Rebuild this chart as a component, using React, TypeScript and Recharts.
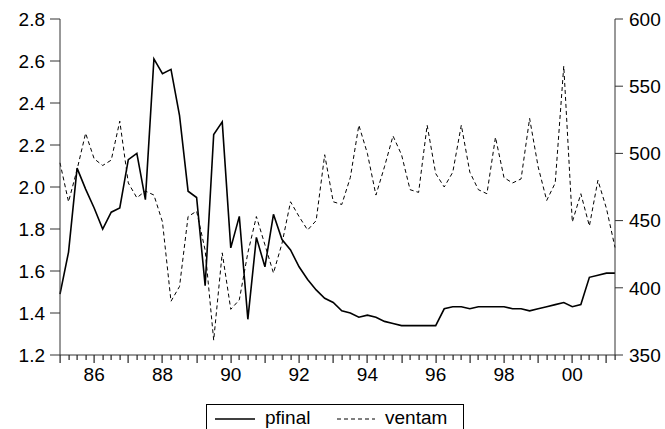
import { LineChart, Line, XAxis, YAxis, Legend } from 'recharts';

// quarterly sample 1985Q1 - 2001Q2
const quarters = [
  '1985Q1', '1985Q2', '1985Q3', '1985Q4', '1986Q1', '1986Q2', '1986Q3', '1986Q4',
  '1987Q1', '1987Q2', '1987Q3', '1987Q4', '1988Q1', '1988Q2', '1988Q3', '1988Q4',
  '1989Q1', '1989Q2', '1989Q3', '1989Q4', '1990Q1', '1990Q2', '1990Q3', '1990Q4',
  '1991Q1', '1991Q2', '1991Q3', '1991Q4', '1992Q1', '1992Q2', '1992Q3', '1992Q4',
  '1993Q1', '1993Q2', '1993Q3', '1993Q4', '1994Q1', '1994Q2', '1994Q3', '1994Q4',
  '1995Q1', '1995Q2', '1995Q3', '1995Q4', '1996Q1', '1996Q2', '1996Q3', '1996Q4',
  '1997Q1', '1997Q2', '1997Q3', '1997Q4', '1998Q1', '1998Q2', '1998Q3', '1998Q4',
  '1999Q1', '1999Q2', '1999Q3', '1999Q4', '2000Q1', '2000Q2', '2000Q3', '2000Q4',
  '2001Q1', '2001Q2',
];

const pfinal = [
  1.49, 1.69, 2.09, 1.99, 1.9, 1.8, 1.88, 1.9,
  2.13, 2.16, 1.94, 2.61, 2.54, 2.56, 2.34, 1.98,
  1.95, 1.53, 2.25, 2.31, 1.71, 1.86, 1.37, 1.76,
  1.62, 1.87, 1.75, 1.7, 1.62, 1.56, 1.51, 1.47,
  1.45, 1.41, 1.4, 1.38, 1.39, 1.38, 1.36, 1.35,
  1.34, 1.34, 1.34, 1.34, 1.34, 1.42, 1.43, 1.43,
  1.42, 1.43, 1.43, 1.43, 1.43, 1.42, 1.42, 1.41,
  1.42, 1.43, 1.44, 1.45, 1.43, 1.44, 1.57, 1.58,
  1.59, 1.59,
];

const ventam = [
  493, 464, 488, 515, 496, 491, 495, 524,
  478, 467, 472, 469, 449, 390, 401, 453,
  457, 428, 361, 426, 384, 391, 426, 453,
  432, 411, 433, 464, 453, 443, 450, 499,
  464, 462, 482, 521, 500, 469, 490, 513,
  499, 473, 471, 521, 485, 475, 486, 521,
  486, 473, 470, 512, 482, 478, 481, 526,
  490, 465, 478, 565, 449, 470, 446, 480,
  459, 430,
];

const yearLabelQuarters = ['1986Q1', '1988Q1', '1990Q1', '1992Q1', '1994Q1', '1996Q1', '1998Q1', '2000Q1'];
const yearLabels = ['86', '88', '90', '92', '94', '96', '98', '00'];
const leftTicks = [1.2, 1.4, 1.6, 1.8, 2.0, 2.2, 2.4, 2.6, 2.8];
const rightTicks = [350, 400, 450, 500, 550, 600];

const FONT = '"Liberation Sans", Arial, sans-serif';
const AXIS = '#333';

const data = quarters.map((q, i) => ({ t: i, q, pfinal: pfinal[i], ventam: ventam[i] }));
const xTicks = quarters.map((_, i) => i);

// quarter tick marks, longer at each year start, with a label every other year
function QuarterTick(props: any) {
  const { x, y, payload } = props;
  const q = quarters[payload.value] || '';
  const isYear = q.endsWith('Q1');
  const li = yearLabelQuarters.indexOf(q);
  return (
    <g>
      <rect x={Math.round(x) - 0.5} y={y} width={1.2} height={isYear ? 8 : 5} fill="#222" />
      {li >= 0 && (
        <text x={x} y={y + 26} textAnchor="middle" fontSize={19} fontFamily={FONT} fill="#000">
          {yearLabels[li]}
        </text>
      )}
    </g>
  );
}

function LegendBox() {
  return (
    <svg width={258} height={30} style={{ display: 'block' }}>
      <rect x={0.5} y={0.5} width={257} height={40} fill="#fff" stroke="#000" strokeWidth={1} />
      <line x1={9} x2={49} y1={15} y2={15} stroke="#000" strokeWidth={1.3} />
      <text x={59} y={20} fontSize={19} fontFamily={FONT} fill="#000">pfinal</text>
      <line x1={131} x2={169} y1={15} y2={15} stroke="#000" strokeWidth={1} strokeDasharray="4 3" />
      <text x={179} y={20} fontSize={19} fontFamily={FONT} fill="#000">ventam</text>
    </svg>
  );
}

export default function App() {
  const tickStyle = { fill: '#000', fontSize: 19, fontFamily: FONT };
  return (
    <div style={{ position: 'absolute', left: 0, top: 0, width: 665, height: 429, background: '#fff' }}>
      <LineChart width={665} height={429} data={data} margin={{ top: 19, right: 0, left: 0, bottom: 44 }}>
        <XAxis
          dataKey="t"
          type="number"
          domain={[0, 65]}
          ticks={xTicks}
          interval={0}
          tick={<QuarterTick />}
          tickSize={0}
          tickMargin={0}
          tickLine={false}
          axisLine={{ stroke: AXIS }}
          height={30}
        />
        <YAxis
          yAxisId="l"
          domain={[1.2, 2.8]}
          ticks={leftTicks}
          tickFormatter={(v: number) => v.toFixed(1)}
          tick={tickStyle}
          tickSize={10}
          tickMargin={5}
          tickLine={{ stroke: AXIS }}
          axisLine={{ stroke: AXIS }}
          width={60}
          interval={0}
        />
        <YAxis
          yAxisId="r"
          orientation="right"
          domain={[350, 600]}
          ticks={rightTicks}
          tick={tickStyle}
          tickSize={8}
          tickMargin={6}
          tickLine={{ stroke: AXIS }}
          axisLine={{ stroke: AXIS }}
          width={50}
          interval={0}
        />
        <Legend
          layout="horizontal"
          verticalAlign="middle"
          align="center"
          wrapperStyle={{ position: 'absolute', left: 206, top: 404, width: 258, height: 30 }}
          content={() => <LegendBox />}
        />
        <Line
          yAxisId="l"
          type="linear"
          dataKey="pfinal"
          stroke="#000"
          strokeWidth={1.6}
          dot={false}
          isAnimationActive={false}
        />
        <Line
          yAxisId="r"
          type="linear"
          dataKey="ventam"
          stroke="#000"
          strokeWidth={1}
          strokeDasharray="4 3"
          dot={false}
          isAnimationActive={false}
        />
      </LineChart>
    </div>
  );
}
